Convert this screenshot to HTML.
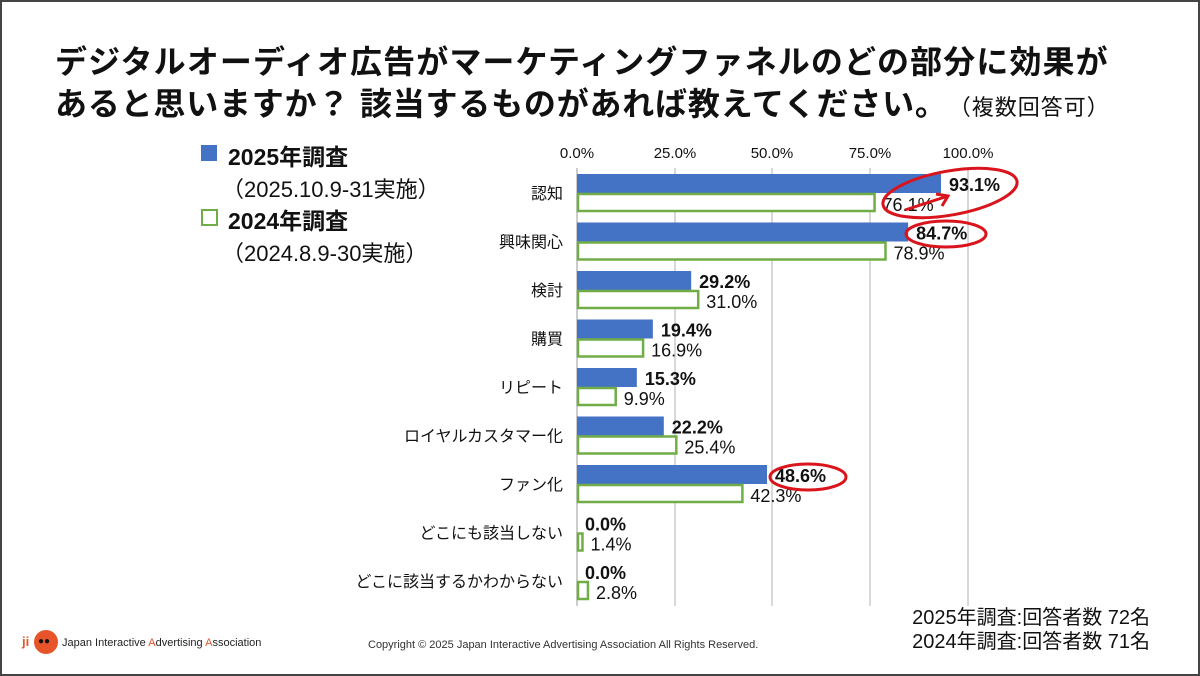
<!DOCTYPE html>
<html><head><meta charset="utf-8"><style>
body{margin:0;width:1200px;height:676px;overflow:hidden;background:#fff;font-family:"Liberation Sans","Noto Sans CJK JP",sans-serif;}
#f{position:absolute;left:0;top:0;width:1196px;height:672px;border:2px solid #444;}
.t{position:absolute;white-space:nowrap;color:#111;}
</style></head><body><div id="f"></div>
<div class="t" style="left:55px;top:37px;font-size:32px;font-weight:bold;letter-spacing:1.1px">デジタルオーディオ広告がマーケティングファネルのどの部分に効果が</div>
<div class="t" style="left:55px;top:79px;font-size:32px;font-weight:bold;letter-spacing:0.8px">あると思いますか？ 該当するものがあれば教えてください。<span style="font-size:22px;font-weight:normal;letter-spacing:1px;margin-left:12px">（複数回答可）</span></div>
<div style="position:absolute;left:201px;top:145px;width:16px;height:16px;background:#4472c4"></div>
<div class="t" style="left:228px;top:138px;font-size:23px;font-weight:bold">2025年調査</div>
<div class="t" style="left:222px;top:172px;font-size:22px">（2025.10.9-31実施）</div>
<div style="position:absolute;left:201px;top:209px;width:13px;height:13px;border:2px solid #70ad47"></div>
<div class="t" style="left:228px;top:202px;font-size:23px;font-weight:bold">2024年調査</div>
<div class="t" style="left:222px;top:236px;font-size:22px">（2024.8.9-30実施）</div>
<svg width="1200" height="676" style="position:absolute;left:0;top:0" font-family="Liberation Sans, Noto Sans CJK JP, sans-serif">
<g stroke="#ccc" stroke-width="1.5">
<line x1="675" y1="168" x2="675" y2="606"/><line x1="772" y1="168" x2="772" y2="606"/><line x1="870" y1="168" x2="870" y2="606"/><line x1="968" y1="168" x2="968" y2="606"/></g>
<line x1="577" y1="168" x2="577" y2="606" stroke="#bbb" stroke-width="1.5"/>
<g font-size="15" fill="#111" text-anchor="middle">
<text x="577" y="158">0.0%</text><text x="675" y="158">25.0%</text><text x="772" y="158">50.0%</text><text x="870" y="158">75.0%</text><text x="968" y="158">100.0%</text></g>
<g id="bars"></g>
<g fill="none" stroke="#d9141c" stroke-width="3">
<ellipse cx="950" cy="193" rx="68" ry="22" transform="rotate(-10 950 193)"/>
<ellipse cx="946" cy="234" rx="40" ry="13"/>
<ellipse cx="808" cy="477" rx="38" ry="13"/>
<path d="M905 210 L948 196 M936 194 L948 196 L942 206"/>
</g>
</svg>
<div class="t" style="right:50px;top:601px;font-size:20px">2025年調査:回答者数 72名</div>
<div class="t" style="right:50px;top:625px;font-size:20px">2024年調査:回答者数 71名</div>
<div class="t" style="left:368px;top:639px;font-size:11px;color:#333">Copyright © 2025 Japan Interactive Advertising Association All Rights Reserved.</div>
<div class="t" style="left:22px;top:634px;font-size:13px;font-weight:bold;color:#e8542a">ji</div>
<div style="position:absolute;left:34px;top:630px;width:24px;height:24px;border-radius:50%;background:#e8542a"></div>
<div class="t" style="left:38px;top:636px;font-size:10px;color:#111;font-weight:bold">●●</div>
<div class="t" style="left:62px;top:637px;font-size:11px;color:#222">Japan Interactive <span style="color:#e8542a">A</span>dvertising <span style="color:#e8542a">A</span>ssociation</div>
<script>
var d=[["認知",93.1,76.1],["興味関心",84.7,78.9],["検討",29.2,31.0],["購買",19.4,16.9],["リピート",15.3,9.9],["ロイヤルカスタマー化",22.2,25.4],["ファン化",48.6,42.3],["どこにも該当しない",0,1.4],["どこに該当するかわからない",0,2.8]];
var s="",k=3.91;
d.forEach(function(r,i){var c=193+i*48.5;
s+='<text x="563" y="'+(c+6)+'" font-size="16" text-anchor="end" fill="#111">'+r[0]+'</text>';
s+='<rect x="577" y="'+(c-19)+'" width="'+(r[1]*k)+'" height="19" fill="#4472c4"/>';
s+='<rect x="578" y="'+(c+1)+'" width="'+Math.max(r[2]*k-1,2)+'" height="17" fill="#fff" stroke="#70ad47" stroke-width="2.5"/>';
s+='<text x="'+(577+r[1]*k+8)+'" y="'+(c-2)+'" font-size="18" font-weight="bold" fill="#111">'+r[1].toFixed(1)+'%</text>';
s+='<text x="'+(577+r[2]*k+8)+'" y="'+(c+18)+'" font-size="18" fill="#111">'+r[2].toFixed(1)+'%</text>';});
document.getElementById("bars").innerHTML=s;
</script>
</body></html>
